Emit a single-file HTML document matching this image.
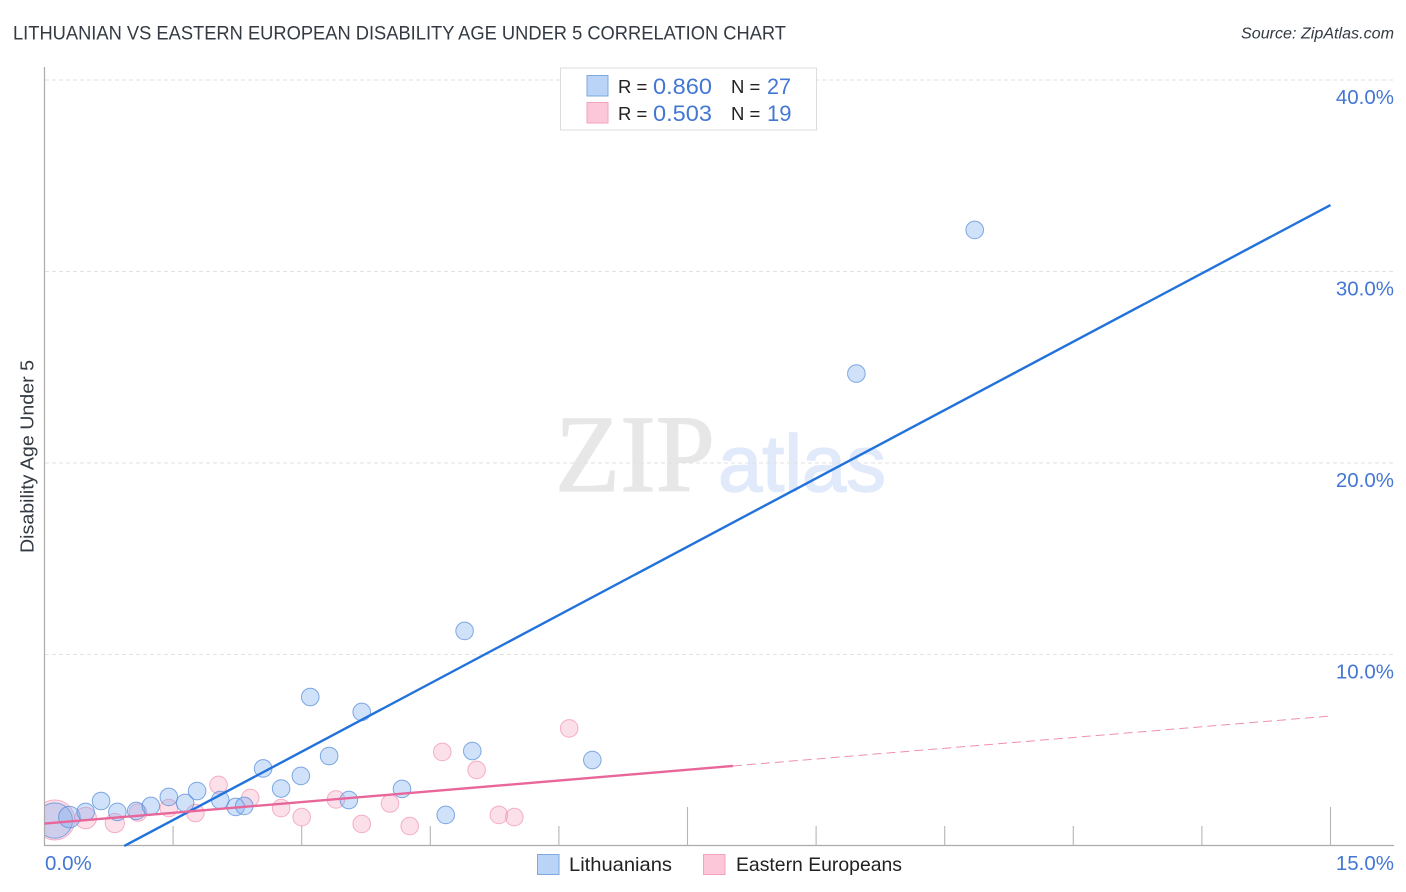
<!DOCTYPE html>
<html lang="en">
<head>
<meta charset="utf-8">
<title>Lithuanian vs Eastern European Disability Age Under 5 Correlation Chart</title>
<style>
html,body{margin:0;padding:0;background:#fff;width:1406px;height:892px;overflow:hidden}
svg{display:block}
text{font-family:"Liberation Sans",sans-serif}
</style>
</head>
<body>
<svg id="chart" width="1406" height="892" viewBox="0 0 1406 892" xmlns="http://www.w3.org/2000/svg">
  <defs>
    <clipPath id="plot-clip" clipPathUnits="userSpaceOnUse"><rect x="45" y="67" width="1349" height="778.5"/></clipPath>
  </defs>
  <text x="13" y="39.5" font-size="19" fill="#333a42" textLength="773" lengthAdjust="spacingAndGlyphs">LITHUANIAN VS EASTERN EUROPEAN DISABILITY AGE UNDER 5 CORRELATION CHART</text>
  <text x="1241" y="38.5" font-size="15.5" font-style="italic" fill="#333a42" textLength="153" lengthAdjust="spacingAndGlyphs">Source: ZipAtlas.com</text>

  <g>
    <text x="555" y="491" font-size="110" fill="#e7e7e7" stroke="#e7e7e7" stroke-width="1.2" textLength="160" lengthAdjust="spacingAndGlyphs" style="font-family:'Liberation Serif',serif">ZIP</text>
    <text x="718" y="491" font-size="80" fill="#e0eafa" stroke="#e0eafa" stroke-width="1.5" textLength="168" lengthAdjust="spacingAndGlyphs" style="font-family:'Liberation Sans',Arial,sans-serif">atlas</text>
  </g>

  <g id="grid"></g>
  <g id="marks" clip-path="url(#plot-clip)"></g>
  <rect x="0" y="780" width="44" height="70" fill="#fff"/>
  <g id="axes"></g>
  <g id="lines"></g>

  <text transform="translate(33.5 553) rotate(-90)" font-size="18.5" fill="#333a42" textLength="193" lengthAdjust="spacingAndGlyphs">Disability Age Under 5</text>

  <g>
    <rect x="560.5" y="68" width="256" height="62" fill="#fff" stroke="#dcdcdc" stroke-width="1"/>
    <rect x="587" y="75.5" width="21" height="20.5" fill="#b9d4f7" stroke="#7fa9dd" stroke-width="1"/>
    <rect x="587" y="102.5" width="21" height="20.5" fill="#fcc8d9" stroke="#f3a3bd" stroke-width="1"/>
    <text x="618" y="93" font-size="18.5" fill="#222">R =</text>
    <text x="653" y="94" font-size="22" fill="#4477d4" textLength="59" lengthAdjust="spacingAndGlyphs">0.860</text>
    <text x="731" y="93" font-size="18.5" fill="#222">N =</text>
    <text x="767" y="94" font-size="22" fill="#4477d4" textLength="24" lengthAdjust="spacingAndGlyphs">27</text>
    <text x="618" y="120" font-size="18.5" fill="#222">R =</text>
    <text x="653" y="121" font-size="22" fill="#4477d4" textLength="59" lengthAdjust="spacingAndGlyphs">0.503</text>
    <text x="731" y="120" font-size="18.5" fill="#222">N =</text>
    <text x="767" y="121" font-size="22" fill="#4477d4">19</text>
  </g>

  <g>
    <g>
      <rect x="537.5" y="854.5" width="21.5" height="20" fill="#b9d4f7" stroke="#7fa9dd" stroke-width="1"/>
      <text x="569" y="871" font-size="19.5" fill="#222" textLength="103" lengthAdjust="spacingAndGlyphs">Lithuanians</text>
    </g>
    <g>
      <rect x="703.5" y="854.5" width="21.5" height="20" fill="#fcc8d9" stroke="#f3a3bd" stroke-width="1"/>
      <text x="736" y="871" font-size="19.5" fill="#222" textLength="166" lengthAdjust="spacingAndGlyphs">Eastern Europeans</text>
    </g>
  </g>
</svg>
<script>
const yTickValues = [10, 20, 30, 40];
const yTickLabels = ['10.0%', '20.0%', '30.0%', '40.0%'];
const xTickValues = [1.5, 3, 4.5, 6, 7.5, 9, 10.5, 12, 13.5, 15];
const xTallTicks = [7.5, 15];
const xEndValues = [0, 15];
const xEndLabels = ['0.0%', '15.0%'];

const lithuanianX = [0.12, 0.29, 0.48, 0.66, 0.85, 1.07, 1.24, 1.45, 1.64, 1.78, 2.05, 2.23, 2.33, 2.55, 2.76, 2.99, 3.32, 3.10, 3.70, 3.55, 4.17, 4.68, 4.99, 6.39, 4.90, 9.47, 10.85];
const lithuanianY = [1.33, 1.51, 1.78, 2.35, 1.78, 1.83, 2.09, 2.56, 2.25, 2.87, 2.40, 2.04, 2.09, 4.05, 3.00, 3.66, 4.70, 7.78, 7.00, 2.40, 2.98, 1.62, 4.96, 4.49, 11.23, 24.67, 32.17];
const lithuanianWeight = [4.05, 1.5, 1, 1, 1, 1, 1, 1, 1, 1, 1, 1, 1, 1, 1, 1, 1, 1, 1, 1, 1, 1, 1, 1, 1, 1, 1];

const easternX = [0.12, 0.48, 0.82, 1.09, 1.45, 1.76, 2.03, 2.40, 2.76, 3.00, 3.40, 3.70, 4.03, 4.26, 4.64, 5.04, 5.30, 5.48, 6.12];
const easternY = [1.36, 1.46, 1.20, 1.75, 1.98, 1.72, 3.19, 2.51, 1.98, 1.51, 2.43, 1.15, 2.22, 1.04, 4.91, 3.97, 1.62, 1.51, 6.14];
const easternWeight = [5.17, 1.5, 1.2, 1, 1, 1, 1, 1, 1, 1, 1, 1, 1, 1, 1, 1, 1, 1, 1];

const lithuanianTrendX = [0.93, 15];
const lithuanianTrendY = [0, 33.47];
const easternTrendX = [0, 8.03];
const easternTrendY = [1.17, 4.18];
const easternDashX = [8.03, 15];
const easternDashY = [4.18, 6.79];

const NS = 'http://www.w3.org/2000/svg';
function xScale(v) { return 44.5 + v * (1330.5 - 44.5) / 15; }
function yScale(v) { return 846 - v * (846 - 80) / 40; }
function mk(parent, tag, attrs, text) {
  const el = document.createElementNS(NS, tag);
  for (const k in attrs) el.setAttribute(k, attrs[k]);
  if (text !== undefined) el.textContent = text;
  parent.appendChild(el);
  return el;
}
const grid = document.getElementById('grid');
const axes = document.getElementById('axes');
const marks = document.getElementById('marks');
const lines = document.getElementById('lines');

yTickValues.forEach(function (v, i) {
  const g = mk(grid, 'line', {x1: 45, x2: 1394, y1: yScale(v), y2: yScale(v), stroke: '#e2e2e2', 'stroke-width': 1, 'stroke-dasharray': '4 3'});
  
  
  const t = mk(grid, 'text', {x: 1394, y: yScale(v) + 24, 'text-anchor': 'end', 'font-size': 20.5, fill: '#4477d4'}, yTickLabels[i]);
  
  
});

const yAxis = mk(axes, 'line', {x1: 44.5, x2: 44.5, y1: 67, y2: 846, stroke: '#ababab', 'stroke-width': 1.2});


const xAxis = mk(axes, 'line', {x1: 44, x2: 1394, y1: 845.5, y2: 845.5, stroke: '#ababab', 'stroke-width': 1.2});



xTickValues.forEach(function (v) {
  const top = xTallTicks.indexOf(v) >= 0 ? 807 : 826;
  const tick = mk(axes, 'line', {x1: xScale(v), x2: xScale(v), y1: top, y2: 845.5, stroke: '#b5b5b5', 'stroke-width': 1.1});
  
  
});

xEndValues.forEach(function (v, i) {
  const isStart = i === 0;
  const t = mk(axes, 'text', {x: isStart ? xScale(v) + 0.5 : 1394, y: 870, 'text-anchor': isStart ? 'start' : 'end', 'font-size': 20.5, fill: '#4477d4'}, xEndLabels[i]);
  
  
});

easternX.forEach(function (v, i) {
  const c = mk(marks, 'circle', {cx: xScale(v), cy: yScale(easternY[i]), r: 8.8 * Math.sqrt(easternWeight[i]), fill: 'rgba(248,170,195,0.36)', stroke: 'rgba(238,130,165,0.6)', 'stroke-width': 1});
  
  
});
lithuanianX.forEach(function (v, i) {
  const c = mk(marks, 'circle', {cx: xScale(v), cy: yScale(lithuanianY[i]), r: 8.8 * Math.sqrt(lithuanianWeight[i]), fill: 'rgba(125,175,240,0.36)', stroke: 'rgba(80,135,215,0.7)', 'stroke-width': 1});
  
  
});

const blueTrend = mk(lines, 'line', {x1: xScale(lithuanianTrendX[0]), y1: yScale(lithuanianTrendY[0]), x2: xScale(lithuanianTrendX[1]), y2: yScale(lithuanianTrendY[1]), stroke: '#2272dc', 'stroke-width': 2.4});


const pinkTrend = mk(lines, 'line', {x1: xScale(easternTrendX[0]), y1: yScale(easternTrendY[0]), x2: xScale(easternTrendX[1]), y2: yScale(easternTrendY[1]), stroke: '#e8669a', 'stroke-width': 2.4});


const pinkDash = mk(lines, 'line', {x1: xScale(easternDashX[0]), y1: yScale(easternDashY[0]), x2: xScale(easternDashX[1]), y2: yScale(easternDashY[1]), stroke: '#ee8fb0', 'stroke-width': 1, 'stroke-dasharray': '9 5'});


</script>
</body>
</html>
